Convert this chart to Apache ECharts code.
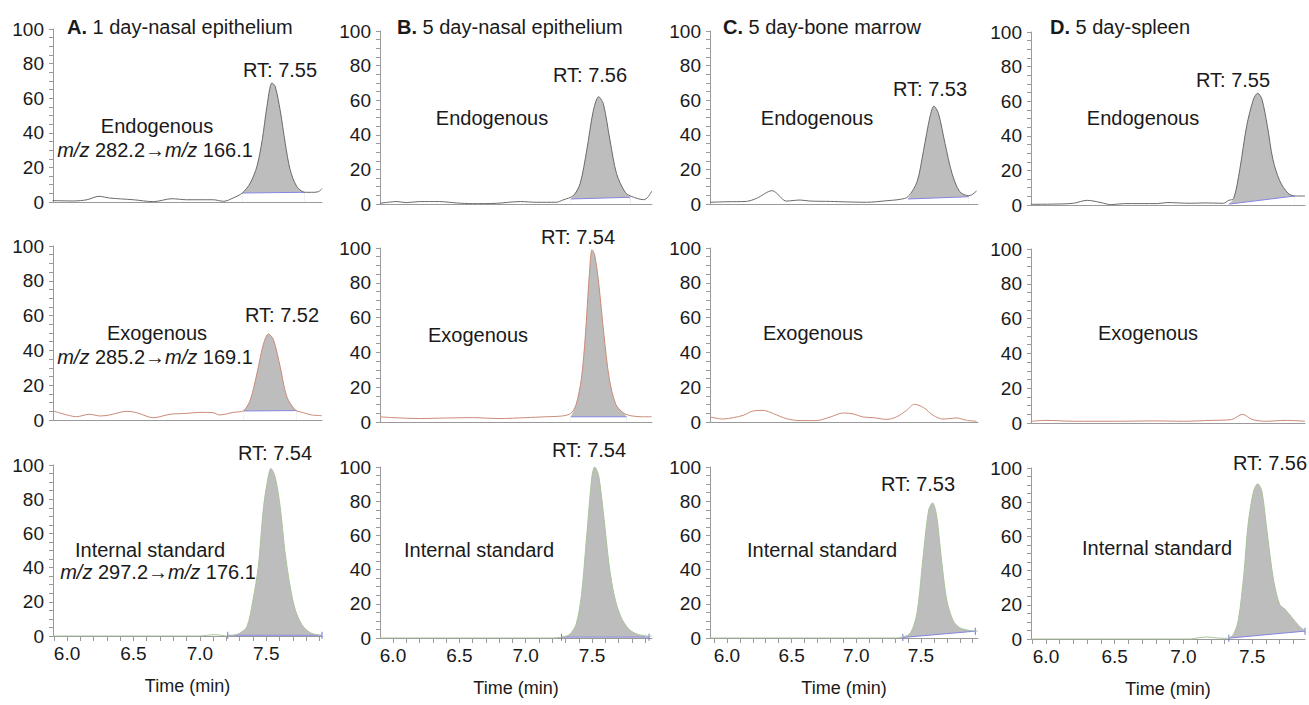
<!DOCTYPE html>
<html>
<head>
<meta charset="utf-8">
<title>LC-MS/MS chromatograms</title>
<script src="https://cdn.jsdelivr.net/npm/echarts@6.0.0/dist/echarts.min.js"></script>
<style>
  html, body { margin: 0; padding: 0; background: #fff; }
  #chart { width: 1309px; height: 705px; }
</style>
</head>
<body>
<div id="chart"></div>
<script>
// ---- text ----
const panelLetters = ["A.", "B.", "C.", "D."];
const panelNames = ["1 day-nasal epithelium", "5 day-nasal epithelium", "5 day-bone marrow", "5 day-spleen"];
const rowNames = ["Endogenous", "Exogenous", "Internal standard"];
const transitions = [["282.2", "166.1"], ["285.2", "169.1"], ["297.2", "176.1"]]; // column A only
const retentionTimes = [
  ["7.55", "7.52", "7.54"],
  ["7.56", "7.54", "7.54"],
  ["7.53", null, "7.53"],
  ["7.55", null, "7.56"],
];
const xTickLabels = [6.0, 6.5, 7.0, 7.5];
const xAxisName = "Time (min)";

// ---- traces: [time (min), relative abundance (%)] ----
const traceA1 = [[5.89,0.8],[6.05,0.6],[6.15,1.3],[6.24,3.3],[6.32,2.3],[6.5,1.3],[6.65,0.2],[6.79,1.9],[6.9,1.3],[7.1,1.3],[7.18,0.4],[7.25,2.3],[7.32,5.2],[7.38,11],[7.43,20.6],[7.47,36],[7.505,55],[7.543,68.8],[7.567,66.9],[7.605,53],[7.643,34],[7.68,18.7],[7.73,9],[7.79,5.6],[7.856,5.6],[7.894,6],[7.92,7.7]];
const traceA2 = [[5.894,5.2],[6.0,2.9],[6.07,1.9],[6.17,3.3],[6.25,2.3],[6.32,2.9],[6.45,5],[6.525,4.2],[6.65,1.3],[6.776,3.3],[6.9,3.8],[7.0,4.4],[7.1,4.2],[7.15,2.9],[7.25,4.4],[7.33,5.4],[7.38,11.5],[7.43,26.8],[7.48,44],[7.517,49.4],[7.555,46],[7.605,30.6],[7.655,13.4],[7.72,5.7],[7.78,4.2],[7.84,2.9],[7.92,2.5]];
const traceA3 = [[5.894,0],[7.0,0],[7.05,0.4],[7.12,0.8],[7.2,0],[7.25,0.4],[7.3,1.6],[7.355,5.5],[7.4,21],[7.44,40.5],[7.48,75.6],[7.517,94],[7.535,98],[7.567,93],[7.605,75.6],[7.64,50],[7.68,29],[7.72,15],[7.77,6.4],[7.83,2],[7.89,0.6],[7.92,0.4]];
const traceB1 = [[5.902,0.4],[6.03,1.4],[6.1,0.8],[6.2,1.4],[6.35,1.4],[6.48,0.6],[6.6,0.2],[6.78,0.4],[6.96,1.4],[7.08,1],[7.23,1],[7.28,2.3],[7.36,4.9],[7.41,11.7],[7.46,31],[7.51,54],[7.55,62],[7.585,58],[7.635,37],[7.685,17.5],[7.75,6.8],[7.8,4.3],[7.89,2.5],[7.92,3.9],[7.95,7.4]];
const traceB2 = [[5.902,3],[6.0,2.5],[6.2,2],[6.4,2.3],[6.6,2.5],[6.8,2],[7.0,2.5],[7.15,3],[7.28,3.5],[7.34,5],[7.38,10],[7.42,25],[7.45,50],[7.48,85],[7.5,99],[7.52,96],[7.55,80],[7.59,50],[7.63,25],[7.68,10],[7.74,5],[7.8,3.5],[7.88,3],[7.95,3]];
const traceB3 = [[5.902,0],[7.2,0],[7.27,0.5],[7.33,2],[7.38,8],[7.42,25],[7.46,60],[7.5,95],[7.52,100],[7.55,95],[7.59,70],[7.63,42],[7.67,24],[7.72,12],[7.78,5],[7.85,2],[7.95,1]];
const traceC1 = [[5.869,1],[6.0,1.3],[6.15,1.5],[6.23,3.3],[6.35,7.7],[6.38,6.5],[6.46,1.7],[6.565,2.3],[6.64,1.7],[6.8,1.5],[6.93,1.2],[7.08,1],[7.235,1.9],[7.34,2.7],[7.4,4.2],[7.47,12.9],[7.52,31],[7.57,50.5],[7.6,56.6],[7.635,52.4],[7.686,35],[7.74,17.7],[7.8,7.1],[7.87,4.8],[7.89,5.2],[7.93,7.5]];
const traceC2 = [[5.869,2.9],[5.97,1.7],[6.05,2.5],[6.125,3.8],[6.2,6.3],[6.28,6.7],[6.36,4.8],[6.46,1.9],[6.565,0.8],[6.69,0.8],[6.8,2.9],[6.9,5.2],[6.98,4.6],[7.05,2.9],[7.13,2.5],[7.235,1.5],[7.31,2.9],[7.39,6.7],[7.45,10.2],[7.52,8.3],[7.595,3.8],[7.67,1.7],[7.78,2.3],[7.85,1],[7.93,0.4]];
const traceC3 = [[5.869,0],[7.3,0],[7.36,0.5],[7.42,3],[7.47,15],[7.52,50],[7.56,75],[7.59,79],[7.62,72],[7.66,45],[7.7,22],[7.75,10],[7.8,6],[7.87,4.5],[7.94,4]];
const traceD1 = [[5.89,0.4],[6.11,0.6],[6.2,1],[6.3,2.7],[6.4,1.4],[6.47,0.2],[6.57,0.8],[6.81,0.8],[6.88,1.4],[7.05,1],[7.15,1.2],[7.29,1],[7.33,2.7],[7.365,3.7],[7.41,20.7],[7.46,45.8],[7.51,61.3],[7.54,64.6],[7.57,61.3],[7.61,45.8],[7.65,26.5],[7.7,14],[7.76,6.8],[7.81,5.2],[7.884,5.2]];
const traceD2 = [[5.89,1],[6.0,1.5],[6.2,1],[6.5,1],[6.8,1.2],[7.0,1],[7.2,1.5],[7.35,2],[7.43,5],[7.5,2],[7.6,1],[7.75,1.5],[7.884,1]];
const traceD3 = [[5.89,0],[7.05,0],[7.1,0.6],[7.17,1.2],[7.24,0.6],[7.32,0.4],[7.365,2.9],[7.4,11.5],[7.44,38.5],[7.47,67],[7.51,86.5],[7.54,90.8],[7.57,86.5],[7.61,61.5],[7.655,34.6],[7.7,20.2],[7.74,17.3],[7.79,12.5],[7.84,7.7],[7.884,4.8]];

// ---- integration baselines: [start, end] as [time, abundance] ----
const baseA1 = [[7.32,5.2],[7.79,5.6]];
const baseA2 = [[7.33,5.2],[7.73,5.4]];
const baseA3 = [[7.21,0.4],[7.92,0.4]];
const baseB1 = [[7.34,2.9],[7.79,3.9]];
const baseB2 = [[7.34,3],[7.76,3]];
const baseB3 = [[7.27,0.5],[7.93,0.5]];
const baseC1 = [[7.4,2.9],[7.87,4.2]];
const baseC3 = [[7.36,0.3],[7.92,4]];
const baseD1 = [[7.33,0.5],[7.81,5.2]];
const baseD3 = [[7.33,0.5],[7.884,4.6]];

const traces = [[traceA1, traceA2, traceA3], [traceB1, traceB2, traceB3], [traceC1, traceC2, traceC3], [traceD1, traceD2, traceD3]];
const baselines = [[baseA1, baseA2, baseA3], [baseB1, baseB2, baseB3], [baseC1, null, baseC3], [baseD1, null, baseD3]];

// ---- layout ----
const FONT = '"Liberation Sans", Arial, Helvetica, sans-serif';
const TEXT = "#1a1a1a";
const AXIS = "#9a9a9a";
const rowColors = ["#6a6a6a", "#c98b77", "#a9c39a"];
const colLayout = [
  { left: 53, width: 269, min: 5.894, max: 7.92, dy: 0 },
  { left: 380, width: 272, min: 5.902, max: 7.952, dy: 2 },
  { left: 710, width: 268, min: 5.869, max: 7.941, dy: 2 },
  { left: 1031, width: 274, min: 5.891, max: 7.884, dy: 3 },
];
const rowTop = [29, 246, 465];
const rowHeight = [173, 174, 171];
const titlePos = [[67, 27], [397, 27], [723, 27], [1050, 27]];
const rtPos = [
  [[280, 70], [282, 315], [275, 453]],
  [[590, 75], [578, 237], [589, 450]],
  [[930, 89], null, [918, 484]],
  [[1233, 80], null, [1270, 463]],
];
const rowNamePos = [
  [[157, 126], [157, 333], [150, 550]],
  [[492, 118], [478, 335], [479, 550]],
  [[817, 118], [813, 333], [822, 550]],
  [[1143, 118], [1148, 333], [1157, 548]],
];
const transitionPos = [[155, 150], [155, 357], [158, 572]];

const minorTimes = [];
for (let i = 59; i <= 79; i++) minorTimes.push(i / 10);

function text(x, y, str, extra) {
  return {
    type: "text", x, y, silent: true, z: 20,
    style: Object.assign({ text: str, fill: TEXT, fontSize: 20, fontFamily: FONT, align: "center", verticalAlign: "middle" }, extra || {}),
  };
}

const chart = echarts.init(document.getElementById("chart"), null, { renderer: "svg" });
const grid = [], xAxis = [], yAxis = [], series = [], graphic = [];

for (let c = 0; c < 4; c++) {
  const L = colLayout[c];
  for (let r = 0; r < 3; r++) {
    const gi = grid.length;
    const bottomRow = r === 2;
    grid.push({ left: L.left, top: rowTop[r] + L.dy, width: L.width, height: rowHeight[r] });

    xAxis.push({
      type: "value", gridIndex: gi, min: L.min, max: L.max, z: 10,
      axisLine: { show: true, lineStyle: { color: AXIS, width: 1 } },
      axisTick: { show: bottomRow, length: 5, lineStyle: { color: AXIS },
        customValues: minorTimes.filter((v) => v >= L.min && v <= L.max) },
      axisLabel: { show: bottomRow, customValues: xTickLabels, formatter: (v) => v.toFixed(1),
        fontSize: 19, color: TEXT, fontFamily: FONT, margin: 8 },
      splitLine: { show: false },
      name: bottomRow ? xAxisName : "", nameLocation: "middle", nameGap: 41,
      nameTextStyle: { fontSize: 18, color: TEXT, fontFamily: FONT },
    });
    yAxis.push({
      type: "value", gridIndex: gi, min: 0, max: 100, interval: 20, z: 10,
      axisLine: { show: true, lineStyle: { color: AXIS, width: 1 } },
      axisTick: { show: true, length: 4, lineStyle: { color: AXIS } },
      minorTick: { show: true, splitNumber: 4, length: 4, lineStyle: { color: AXIS } },
      axisLabel: { fontSize: 19, color: TEXT, fontFamily: FONT, margin: 9 },
      splitLine: { show: false },
    });

    const trace = traces[c][r];
    const base = baselines[c][r];
    if (base) {
      const [t0, t1] = [base[0][0], base[1][0]];
      const peakTop = [base[0], ...trace.filter(([t]) => t > t0 && t < t1), base[1]];
      // grey integrated area: trace filled to zero, the part under the baseline masked white
      series.push({
        type: "line", xAxisIndex: gi, yAxisIndex: gi, data: peakTop, silent: true,
        showSymbol: false, smooth: 0.3, lineStyle: { width: 0, opacity: 0 },
        areaStyle: { color: "#bdbdbd", opacity: 1 }, z: 2,
      });
      series.push({
        type: "line", xAxisIndex: gi, yAxisIndex: gi, data: base, silent: true,
        showSymbol: false, lineStyle: { width: 0, opacity: 0 },
        areaStyle: { color: "#ffffff", opacity: 1 }, z: 3,
      });
      series.push({
        type: "line", xAxisIndex: gi, yAxisIndex: gi, data: base, silent: true,
        symbol: "rect", symbolSize: [1, 7], showSymbol: bottomRow,
        itemStyle: { color: "#7070dd" }, lineStyle: { color: "#8585e3", width: 1 }, z: 12,
      });
    }
    series.push({
      type: "line", xAxisIndex: gi, yAxisIndex: gi, data: trace, silent: true,
      showSymbol: false, smooth: 0.3, lineStyle: { color: rowColors[r], width: 1 }, z: 13,
    });

    // annotations
    if (retentionTimes[c][r]) {
      const [x, y] = rtPos[c][r];
      graphic.push(text(x, y, "RT: " + retentionTimes[c][r]));
    }
    const [nx, ny] = rowNamePos[c][r];
    graphic.push(text(nx, ny, rowNames[r]));
    if (c === 0) {
      const [tx, ty] = transitionPos[r];
      const [q1, q3] = transitions[r];
      graphic.push(text(tx, ty, "{i|m/z} " + q1 + "\u2192{i|m/z} " + q3, {
        rich: { i: { fontStyle: "italic", fontSize: 20, fontFamily: FONT, fill: TEXT } },
      }));
    }
  }
  const [px, py] = titlePos[c];
  graphic.push(text(px, py, "{b|" + panelLetters[c] + "} " + panelNames[c], {
    align: "left",
    rich: { b: { fontWeight: "bold", fontSize: 20, fontFamily: FONT, fill: TEXT } },
  }));
}

chart.setOption({
  animation: false,
  backgroundColor: "#ffffff",
  grid, xAxis, yAxis, series, graphic,
});
</script>
</body>
</html>
